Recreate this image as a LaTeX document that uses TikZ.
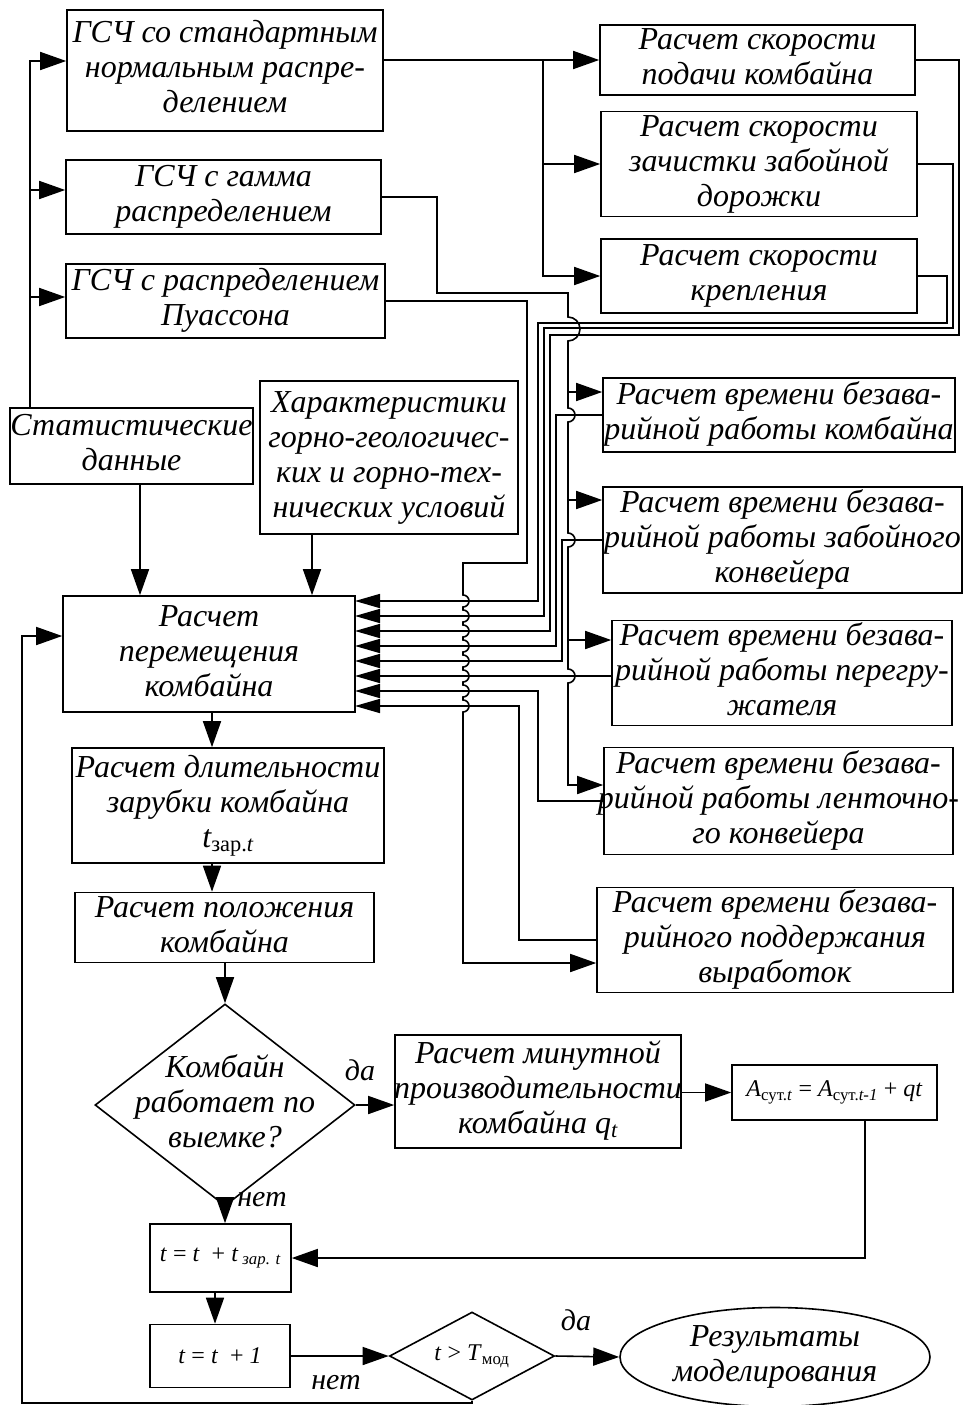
\documentclass[tikz,border=0pt]{standalone}
\usepackage{fontspec}
\setmainfont{Liberation Serif}
\usetikzlibrary{arrows.meta,shapes.geometric}

\newcommand{\boxlines}[1]{\makebox[0pt]{\begin{tabular}{@{}c@{}}#1\end{tabular}}}

\begin{document}
\begin{tikzpicture}[%
      x=1pt, y=-1pt,
      line width=1.6pt,
      box/.style={draw, rectangle, inner sep=0pt, font=\fontsize{32}{35}\selectfont\itshape},
      smallbox/.style={draw, rectangle, inner sep=0pt, font=\fontsize{24}{28}\selectfont},
      decision/.style={draw, diamond, inner sep=0pt},
      lab/.style={inner sep=0pt, font=\fontsize{30}{32}\selectfont\itshape},
      arr/.style={-{Triangle[length=26pt,width=18pt]}},
      arrs/.style={-{Triangle[length=25pt,width=14pt]}},
      ]
      \useasboundingbox (0,0) rectangle (962,1405);

      \node[box, minimum width=316, minimum height=121] (gsc1) at (225,70.5) {\boxlines{ГСЧ со стандартным\\нормальным распре-\\делением}};
      \node[box, minimum width=315, minimum height=74] (gsc2) at (223.5,197) {\boxlines{ГСЧ с гамма\\распределением}};
      \node[box, minimum width=319, minimum height=74] (gsc3) at (225.5,301) {\boxlines{ГСЧ с распределением\\Пуассона}};
      \node[box, minimum width=243, minimum height=76] (stat) at (131.5,446) {\boxlines{Статистические\\данные}};
      \node[box, minimum width=258, minimum height=153] (char) at (389,457.5) {\boxlines{Характеристики\\горно-геологичес-\\ких и горно-тех-\\нических условий}};

      \node[box, minimum width=315, minimum height=70] (v1) at (757.5,60) {\boxlines{Расчет скорости\\подачи комбайна}};
      \node[box, minimum width=316, minimum height=104] (v2) at (759,164) {\boxlines{Расчет скорости\\зачистки забойной\\дорожки}};
      \node[box, minimum width=316, minimum height=74] (v3) at (759,276) {\boxlines{Расчет скорости\\крепления}};

      \node[box, minimum width=352, minimum height=74] (t1) at (779,415) {\boxlines{Расчет времени безава-\\рийной работы комбайна}};
      \node[box, minimum width=359, minimum height=106] (t2) at (782.5,540) {\boxlines{Расчет времени безава-\\рийной работы забойного\\конвейера}};
      \node[box, minimum width=340, minimum height=102] (t3) at (782,673) {\boxlines{Расчет времени безава-\\рийной работы перегру-\\жателя}};
      \node[box, minimum width=349, minimum height=107] (t4) at (778.5,801) {\boxlines{Расчет времени безава-\\рийной работы ленточно-\\го конвейера}};
      \node[box, minimum width=356, minimum height=105] (t5) at (775,940) {\boxlines{Расчет времени безава-\\рийного поддержания\\выработок}};

      \node[box, minimum width=292, minimum height=116] (move) at (209,654) {\boxlines{Расчет\\перемещения\\комбайна}};
      \node[box, minimum width=312, minimum height=115] (dur) at (228,805.5) {\boxlines{Расчет длительности\\зарубки комбайна\\\textit{t}\textsubscript{\upshape зар.\itshape t}}};
      \node[box, minimum width=299, minimum height=61] (pos) at (224.5,927.5) {\boxlines{Расчет положения\\комбайна}};

      \node[decision, minimum width=260, minimum height=202] (dia) at (225,1105) {};
      \node[box, draw=none] (diatext) at (dia) {\boxlines{Комбайн\\работает по\\выемке?}};
      \node[box, minimum width=286, minimum height=113] (prod) at (538,1091.5) {\boxlines{Расчет минутной\\производительности\\комбайна \textit{q}\textsubscript{\textit{t}}}};
      \node[smallbox, minimum width=205, minimum height=55] (acc) at (834.5,1092.5) {\textit{A}\textsubscript{сут.\textit{t}} = \textit{A}\textsubscript{сут.\textit{t-1}} + \textit{qt}};

      \node[smallbox, minimum width=141, minimum height=68] (tz) at (220.5,1258) {\textit{t} = \textit{t}\ \ + \textit{t}\,\textsubscript{\textit{зар. t}}};
      \node[smallbox, minimum width=140, minimum height=63] (tone) at (220,1356) {\textit{t} = \textit{t}\ \ + \textit{1}};
      \node[decision, font=\fontsize{24}{28}\selectfont, minimum width=165, minimum height=88] (dia2) at (472,1356) {\makebox[0pt]{\textit{t} > \textit{T}\textsubscript{мод}}};
      \node[box, ellipse, minimum width=310, minimum height=92] (res) at (775,1357) {\boxlines{Результаты\\моделирования}};

      \node[lab] (yes1) at (360,1070) {да};
      \node[lab] (no1) at (262,1200) {нет};
      \node[lab] (yes2) at (576,1320) {да};
      \node[lab] (no2) at (336,1383) {нет};

      \foreach \i in {1,...,8}
        \coordinate (in\i) at (355,586+15*\i);

      \draw[arr] (stat.north -| 30,0) |- (gsc1.west |- 0,61);
      \draw[arr] (30,190) -- (gsc2.west |- 0,190);
      \draw[arr] (30,297) -- (gsc3.west |- 0,297);

      \draw[arr] (gsc1.east |- v1.west) -- (v1.west);
      \draw[arr] (543,60) |- (v2.west);
      \draw[arr] (543,60) |- (v3.west);

      \draw[arr] (gsc2.east) -| (437,293) -- (568,293) -- (568,317)
        arc[start angle=-90, end angle=90, radius=12] -- (568,408)
        arc[start angle=-90, end angle=90, radius=7] -- (568,533)
        arc[start angle=-90, end angle=90, radius=7] -- (568,669)
        arc[start angle=-90, end angle=90, radius=7] -- (568,785) -- (t4.west |- 0,785);
      \draw[arr] (568,392) -- (t1.west |- 0,392);
      \draw[arr] (568,500) -- (t2.west |- 0,500);
      \draw[arr] (568,640) -- (t3.west |- 0,640);

      \draw[arr] (gsc3.east) -| (527,563) -- (463,563)
        foreach \y in {601,616,...,706} { -- (463,\y-6) arc[start angle=-90, end angle=90, radius=6] }
        -- (463,963) -- (t5.west |- 0,963);

      \draw[arrs] (v3.east) -| (947,323) -- (538,323) |- (in1);
      \draw[arrs] (v2.east) -| (953,328) -- (544,328) |- (in2);
      \draw[arrs] (v1.east) -| (959,335) -- (550,335) |- (in3);
      \draw[arrs] (t1.west) -| (556,646) -- (in4);
      \draw[arrs] (t2.west) -| (562,661) -- (in5);
      \draw[arrs] (t3.west |- in6) -- (in6);
      \draw[arrs] (t4.west) -| (538,691) -- (in7);
      \draw[arrs] (t5.west) -| (519,706) -- (in8);

      \draw[arr] (stat.south -| 140,0) -- (move.north -| 140,0);
      \draw[arr] (char.south -| 312,0) -- (move.north -| 312,0);
      \draw[arr] (move.south -| 212,0) -- (dur.north -| 212,0);
      \draw[arr] (dur.south -| 212,0) -- (pos.north -| 212,0);
      \draw[arr] (pos.south -| 225,0) -- (dia.north);
      \draw[arr] (dia.east) -- (prod.west |- dia.east);
      \draw[arr] (prod.east |- acc.west) -- (acc.west);
      \draw[arr] (acc.south -| 865,0) |- (tz.east);
      \draw[arr] (dia.south) -- (tz.north -| dia.south);
      \draw[arr] (tz.south -| 215,0) -- (tone.north -| 215,0);
      \draw[arr] (tone.east) -- (dia2.west);
      \draw[arr] (dia2.east) -- (res.west);
      \draw[arr] (dia2.south) -- (dia2.south |- 0,1403) -| (22,636) -- (move.west |- 0,636);
      \end{tikzpicture}
\end{document}
